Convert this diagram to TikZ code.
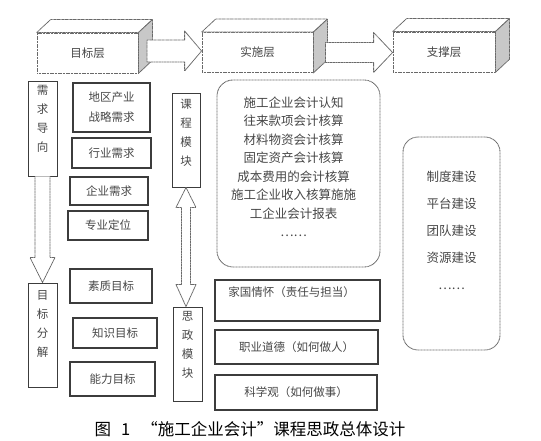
\documentclass[tikz,border=0pt]{standalone}
\usepackage{fontspec}
\setmainfont{Noto Sans CJK SC}
\usetikzlibrary{calc}
\definecolor{FrameGray}{RGB}{105,105,105}
\definecolor{SideGray}{RGB}{200,200,200}
\definecolor{BoxGray}{RGB}{60,60,60}
\definecolor{InkGray}{RGB}{70,70,70}
\tikzset{
  layer face/.style={draw=FrameGray, line width=0.8pt, dash pattern=on 1.2pt off 0.4pt,
    fill=white, minimum width=#1, minimum height=40pt, inner sep=0pt,
    font=\fontsize{11.5}{14}\selectfont, text=InkGray},
  layer line/.style={draw=FrameGray, line width=0.8pt, dash pattern=on 1.2pt off 0.4pt, line join=round},
  block arrow/.style={layer line, fill=white},
  item box/.style={draw=BoxGray, line width=1.1pt, inner sep=0pt, align=center,
    font=\fontsize{11.5}{20}\selectfont, text=InkGray},
  tag box/.style={draw=BoxGray, line width=0.9pt, inner sep=0pt, minimum width=29pt},
  tag text/.style={anchor=north, inner sep=0pt, align=center,
    font=\fontsize{11.5}{19}\selectfont, text=InkGray},
  group box/.style={draw=FrameGray, line width=0.9pt, dash pattern=on 1pt off 0.5pt,
    rounded corners=16pt, inner sep=0pt},
  group text/.style={anchor=north, inner sep=0pt, align=center,
    font=\fontsize{12.5}{18.5}\selectfont, text=InkGray},
  caption text/.style={font=\fontsize{16.5}{18}\selectfont, text=black}
}

\begin{document}
\begin{tikzpicture}[x=1pt, y=-1pt]
\useasboundingbox (0,0) rectangle (541,441);
% three layers
\node[layer face=101pt] (mbc) at (87.5,53) {目标层};
\node[layer face=111pt] (ssc) at (257.5,52.5) {实施层};
\node[layer face=102pt] (zcc) at (444,52) {支撑层};
\foreach \n in {mbc,ssc,zcc}{
  \draw[layer line, fill=white] (\n.north west) -- ++(14pt,13pt) -- ($(\n.north east)+(14pt,13pt)$) -- (\n.north east) -- cycle;
  \draw[layer line, fill=SideGray] (\n.north east) -- ++(14pt,13pt) -- ($(\n.south east)+(14pt,13pt)$) -- (\n.south east) -- cycle;
}
\coordinate (a1) at ($(mbc.east)+(8.5pt,2pt)$);
\coordinate (a2) at ($(ssc.east)+(12pt,0pt)$);
\draw[block arrow] let \p1=(a1), \p2=(ssc.west) in
  (\x1,\y1+11pt) -- (\x2-17pt,\y1+11pt) -- (\x2-17pt,\y1+20pt) -- (\x2,\y1)
  -- (\x2-17pt,\y1-20pt) -- (\x2-17pt,\y1-11pt) -- (\x1,\y1-11pt) -- cycle;
\draw[block arrow] let \p1=(a2), \p2=(zcc.west) in
  (\x1,\y1+10pt) -- (\x2-19pt,\y1+10pt) -- (\x2-19pt,\y1+20pt) -- (\x2,\y1)
  -- (\x2-19pt,\y1-20pt) -- (\x2-19pt,\y1-10pt) -- (\x1,\y1-10pt) -- cycle;

% left column
\node[tag box, minimum height=95pt, label={[tag text, yshift=-5pt]north:需\\求\\导\\向}] (xqdx) at (42.5,128.5) {};
\node[tag box, minimum height=104pt, label={[tag text, yshift=-8pt]north:目\\标\\分\\解}] (mbfj) at (42.5,335) {};
\draw[block arrow] let \p1=(xqdx.south), \p2=(mbfj.north) in
  (\x1-7.5pt,\y1) -- (\x1-7.5pt,\y2+25pt) -- (\x1-12.5pt,\y2+25pt) -- (\x1,\y2)
  -- (\x1+12.5pt,\y2+25pt) -- (\x1+7.5pt,\y2+25pt) -- (\x1+7.5pt,\y1);

\node[item box, minimum width=77pt, minimum height=49pt] (dqcy) at (111.5,107.5) {地区产业\\战略需求};
\node[item box, minimum width=79pt, minimum height=30pt] (hyxq) at (111.5,153) {行业需求};
\node[item box, minimum width=78pt, minimum height=28pt] (qyxq) at (109,191) {企业需求};
\node[item box, minimum width=80pt, minimum height=29pt] (zydw) at (108,225.5) {专业定位};
\node[item box, minimum width=82pt, minimum height=34pt] (szmb) at (111,286) {素质目标};
\node[item box, minimum width=84pt, minimum height=30pt] (zsmb) at (115,333) {知识目标};
\node[item box, minimum width=85pt, minimum height=34pt] (nlmb) at (112.5,379) {能力目标};

% middle column
\node[tag box, minimum width=28pt, minimum height=94pt, label={[tag text, yshift=-6pt]north:课\\程\\模\\块}] (kcmk) at (186,140) {};
\node[tag box, minimum height=94pt, label={[tag text, yshift=-5pt]north:思\\政\\模\\块}] (szmk) at (187.5,354) {};
\draw[block arrow] let \p1=(kcmk.south), \p2=(szmk.north) in
  (\x1,\y1) -- (\x1+10pt,\y1-20pt) -- (\x1+4.5pt,\y1-20pt) -- (\x1+4.5pt,\y2+22pt)
  -- (\x1+10pt,\y2+22pt) -- (\x1,\y2) -- (\x1-10pt,\y2+22pt) -- (\x1-4.5pt,\y2+22pt)
  -- (\x1-4.5pt,\y1-20pt) -- (\x1-10pt,\y1-20pt) -- cycle;

\node[group box, minimum width=163pt, minimum height=187pt,
  label={[group text, yshift=-17pt, xshift=-5pt]north:施工企业会计认知\\往来款项会计核算\\材料物资会计核算\\固定资产会计核算\\成本费用的会计核算\\施工企业收入核算施施\\工企业会计报表\\……}] (kcnr) at (298.5,173.5) {};
\node[item box, minimum width=165pt, minimum height=41pt,
  label={[tag text, yshift=-7pt, xshift=-6pt]north:家国情怀（责任与担当）}] (jgqh) at (297.5,300.5) {};
\node[item box, minimum width=163pt, minimum height=34pt] (zydd) at (296.5,347) {职业道德（如何做人）};
\node[item box, minimum width=162pt, minimum height=35pt] (kxg) at (296,392.5) {科学观（如何做事）};

% right column
\node[group box, rounded corners=15pt, minimum width=97pt, minimum height=213pt,
  label={[group text, yshift=-34pt, font=\fontsize{12.5}{27}\selectfont]north:制度建设\\平台建设\\团队建设\\资源建设\\……}] (zcnr) at (451.5,243.5) {};

\node[caption text] (cap) at (250,429) {图\hspace{10pt}1\hspace{11pt}“施工企业会计”课程思政总体设计};
\end{tikzpicture}
\end{document}
